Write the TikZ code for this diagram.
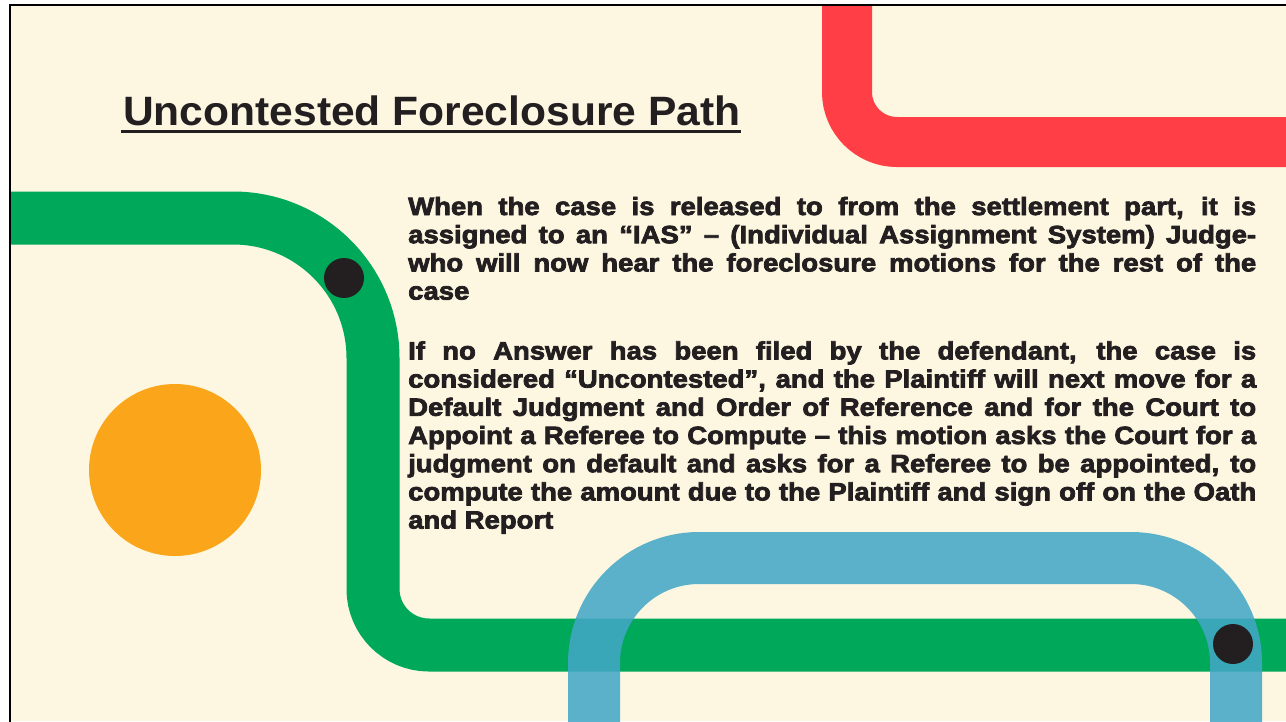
\documentclass[tikz,border=0pt]{standalone}
\usepackage{fontspec}
\setmainfont{Liberation Sans}
\newfontfamily\heavyfont[FakeStretch=1.1,FakeBold=3]{Liberation Sans Bold}
\newfontfamily\titlefont[FakeStretch=1.038]{Liberation Sans Bold}
\setlength\parindent{0pt}
\definecolor{bg}{RGB}{253,247,226}
\definecolor{redline}{RGB}{255,62,69}
\definecolor{greenline}{RGB}{0,168,89}
\definecolor{blueline}{RGB}{66,167,198}
\definecolor{orangedot}{RGB}{251,166,26}
\definecolor{ink}{RGB}{35,31,32}
\begin{document}
\begin{tikzpicture}[x=1pt,y=-1pt,
  track/.style={line width=#1},
  stopdot/.style={circle,fill=ink,inner sep=0,minimum size=40pt},
  bodytext/.style={anchor=base west,inner sep=0,text width=848pt,align=justify,text=ink,
    font=\heavyfont\fontsize{25}{28.2}\selectfont},
  titletext/.style={anchor=base west,inner sep=0,text=ink,font=\titlefont\fontsize{41}{41}\selectfont}]
\useasboundingbox (0,0) rectangle (1286,721);
\fill[white] (0,0) rectangle (1286,721);
\fill[bg] (10,5) rectangle (1286,721);
\begin{scope}
\clip (10,5) rectangle (1286,721);
% red track
\draw[redline,track=50,rounded corners=50] (847,-10) -- (847,142) -- (1300,142);
% green track
\draw[greenline,track=53] (-10,218) -- (233,218) arc[start angle=-90,end angle=0,radius=140]
  -- (373,589) arc[start angle=180,end angle=90,radius=56] -- (1300,645);
% blue track
\draw[blueline,track=52,opacity=0.87] (594,740) -- (594,663) arc[start angle=180,end angle=270,radius=105]
  -- (1131,558) arc[start angle=270,end angle=360,radius=105] -- (1236,740);
% orange disc
\fill[orangedot] (175,470) circle[radius=86];
\node[stopdot] (dotA) at (344,278) {};
\node[stopdot] (dotB) at (1233,644) {};
\end{scope}
% frame
\draw[black,line width=2.5] (10,740) -- (10,5) -- (1300,5);
% title
\node[titletext] (title) at (123,125) {Uncontested Foreclosure Path};
\draw[ink,line width=2.5] ([yshift=-6.5pt,xshift=-2pt]title.base west) -- ([yshift=-6.5pt]title.base east);
% body
\node[bodytext] (body) at (408,215) {When the case is released to from the settlement part, it is\linebreak
assigned to an “IAS” – (Individual Assignment System) Judge-\linebreak
who will now hear the foreclosure motions for the rest of the\linebreak
case\par\vspace{31.6pt}
If no Answer has been filed by the defendant, the case is\linebreak
considered “Uncontested”, and the Plaintiff will next move for a\linebreak
Default Judgment and Order of Reference and for the Court to\linebreak
Appoint a Referee to Compute – this motion asks the Court for a\linebreak
judgment on default and asks for a Referee to be appointed, to\linebreak
compute the amount due to the Plaintiff and sign off on the Oath\linebreak
and Report};
\end{tikzpicture}
\end{document}
